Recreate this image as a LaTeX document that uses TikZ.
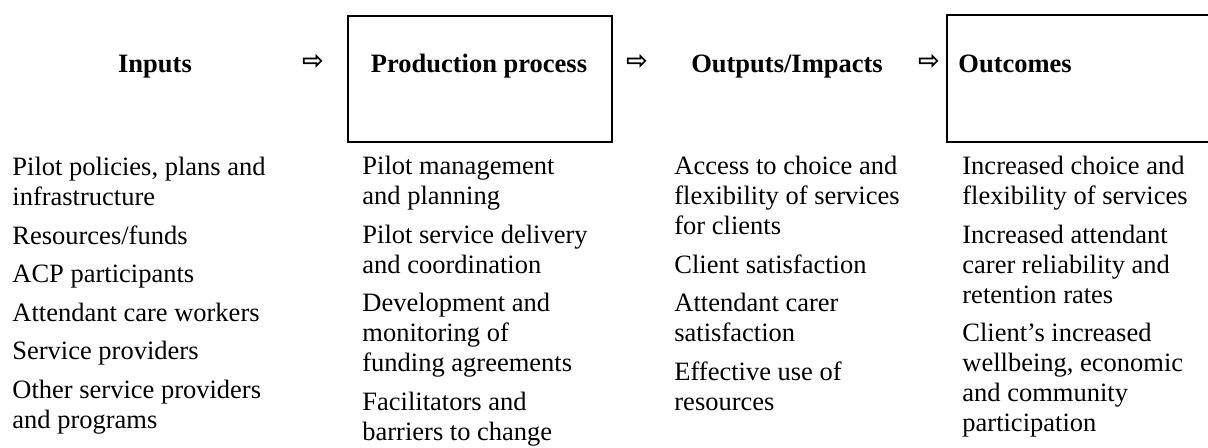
\documentclass[tikz,border=0pt]{standalone}
\usepackage{fontspec}
\setmainfont{Liberation Serif}
\newfontfamily\symfont{DejaVu Sans}
\newcommand{\itemgap}{\vskip 4.25pt}
\begin{document}
\begin{tikzpicture}[x=0.5pt,y=-0.5pt,
  txt/.style={anchor=base west, inner sep=0pt, font=\fontsize{13.25}{15}\selectfont},
  head/.style={anchor=base, inner sep=0pt, font=\fontsize{13.25}{15}\selectfont\bfseries},
  arr/.style={inner sep=0pt, font=\symfont\bfseries\fontsize{13}{13}\selectfont},
  boxline/.style={line width=1pt}]
\useasboundingbox (0,0) rectangle (1208,448);

% boxes
\node[draw, boxline, inner sep=0pt, anchor=north west, minimum width=132pt, minimum height=63pt] (prodbox) at (347,15) {};
\coordinate (otl) at (1212,15);
\coordinate (otc) at (947,15);
\coordinate (obc) at (947,142);
\coordinate (obr) at (1212,142);
\draw[boxline] (otl) -- (otc) -- (obc) -- (obr);

% headings
\node[head] (h1) at (155,72.5) {Inputs};
\node[head] (h2) at (479,72.5) {Production process};
\node[head] (h3) at (787,72.5) {Outputs/Impacts};
\node[head, anchor=base west] (h4) at (958,72.5) {Outcomes};

% arrows
\node[arr] (a1) at (313,62) {⇨};
\node[arr] (a2) at (637,62) {⇨};
\node[arr] (a3) at (929,62) {⇨};

% columns
\node[txt] (c1) at (12,176) {\vtop{%
  \hbox{Pilot policies, plans and}\hbox{infrastructure}\itemgap
  \hbox{Resources/funds}\itemgap
  \hbox{ACP participants}\itemgap
  \hbox{Attendant care workers}\itemgap
  \hbox{Service providers}\itemgap
  \hbox{Other service providers}\hbox{and programs}}};

\node[txt] (c2) at (362,175) {\vtop{%
  \hbox{Pilot management}\hbox{and planning}\itemgap
  \hbox{Pilot service delivery}\hbox{and coordination}\itemgap
  \hbox{Development and}\hbox{monitoring of}\hbox{funding agreements}\itemgap
  \hbox{Facilitators and}\hbox{barriers to change}}};

\node[txt] (c3) at (674,175) {\vtop{%
  \hbox{Access to choice and}\hbox{flexibility of services}\hbox{for clients}\itemgap
  \hbox{Client satisfaction}\itemgap
  \hbox{Attendant carer}\hbox{satisfaction}\itemgap
  \hbox{Effective use of}\hbox{resources}}};

\node[txt] (c4) at (962,175) {\vtop{%
  \hbox{Increased choice and}\hbox{flexibility of services}\itemgap
  \hbox{Increased attendant}\hbox{carer reliability and}\hbox{retention rates}\itemgap
  \hbox{Client’s increased}\hbox{wellbeing, economic}\hbox{and community}\hbox{participation}}};
\end{tikzpicture}
\end{document}
